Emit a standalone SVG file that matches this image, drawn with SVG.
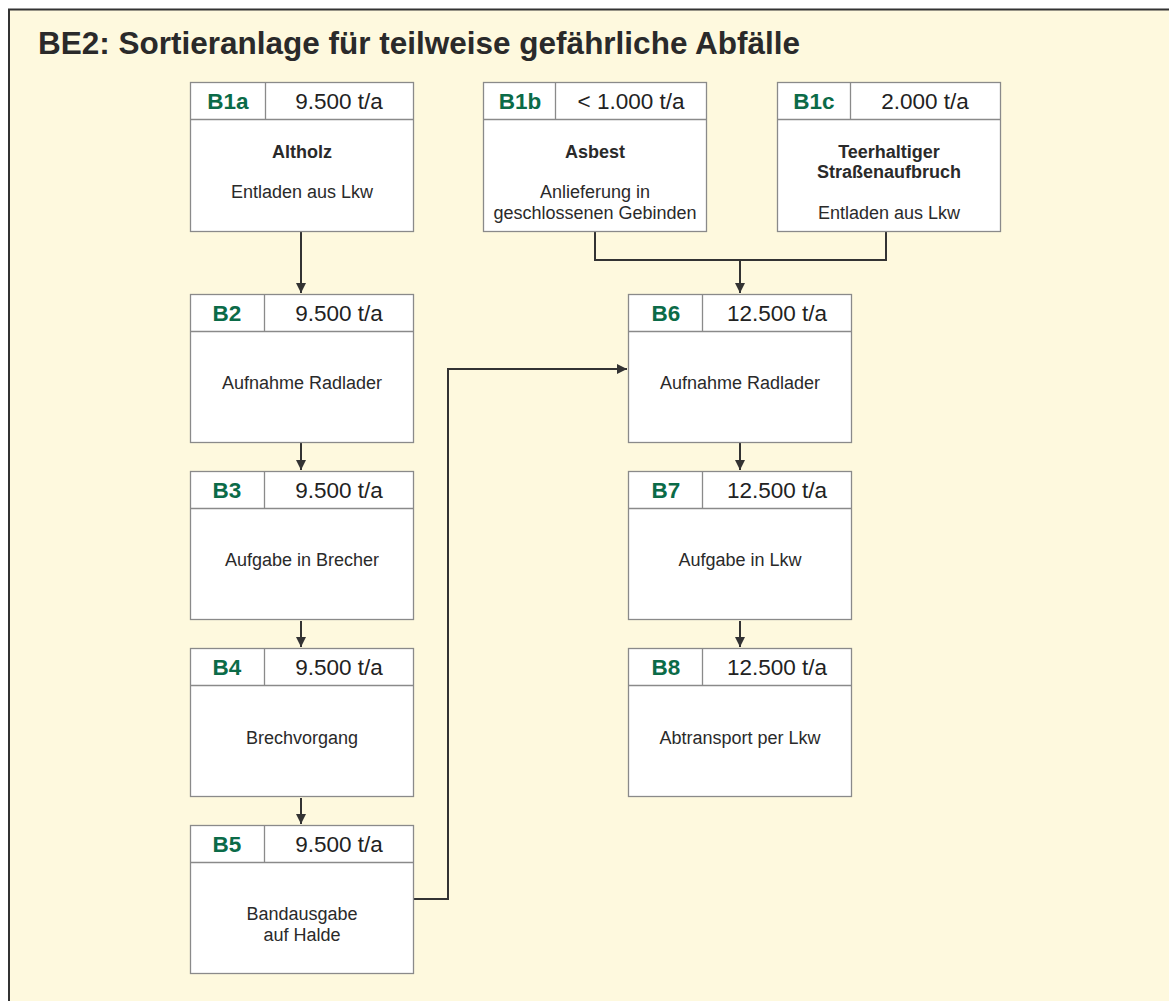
<svg xmlns="http://www.w3.org/2000/svg" width="1169" height="1001" viewBox="0 0 1169 1001">
<defs>
<style>
.box{fill:#fff;stroke:#8a8a8a;stroke-width:1.3}
.id{font-family:"Liberation Sans",Arial,sans-serif;font-weight:bold;font-size:22.5px;fill:#0b6b48;text-anchor:middle}
.val{font-family:"Liberation Sans",Arial,sans-serif;font-size:22.5px;fill:#222;text-anchor:middle}
.t{font-family:"Liberation Sans",Arial,sans-serif;font-size:18px;fill:#2a2a2a;text-anchor:middle}
.tb{font-family:"Liberation Sans",Arial,sans-serif;font-size:18px;font-weight:bold;fill:#2a2a2a;text-anchor:middle}
.c{fill:none;stroke:#333;stroke-width:2}
</style>
<marker id="ah" markerWidth="10" markerHeight="10" viewBox="0 0 10 10" refX="10" refY="5" orient="auto" markerUnits="userSpaceOnUse">
<path d="M0,0 L10,5 L0,10 z" fill="#333"/>
</marker>
</defs>
<rect x="0" y="0" width="1169" height="1001" fill="#fff"/>
<rect x="10" y="10" width="1169" height="1001" fill="#fef9de"/>
<path d="M9,1001 V9.5 H1169" fill="none" stroke="#333" stroke-width="2"/>
<text x="38" y="54" font-family="Liberation Sans,Arial,sans-serif" font-weight="bold" font-size="30.5" fill="#2a2a2a" textLength="762" lengthAdjust="spacingAndGlyphs">BE2: Sortieranlage für teilweise gefährliche Abfälle</text>

<g id="connectors">
<path class="c" d="M301,232 V293" marker-end="url(#ah)"/>
<path class="c" d="M595,232 V260 H886 V232"/>
<path class="c" d="M740,260 V293" marker-end="url(#ah)"/>
<path class="c" d="M301,443 V470" marker-end="url(#ah)"/>
<path class="c" d="M301,621 V647" marker-end="url(#ah)"/>
<path class="c" d="M301,798 V824" marker-end="url(#ah)"/>
<path class="c" d="M414,899 H448 V369 H627" marker-end="url(#ah)"/>
<path class="c" d="M740,443 V470" marker-end="url(#ah)"/>
<path class="c" d="M740,621 V647" marker-end="url(#ah)"/>
</g>

<g id="B1a">
<rect class="box" x="190.5" y="82.5" width="223" height="149"/>
<path class="box" d="M190.5,119.5 H413.5 M265.5,82.5 V119.5"/>
<text class="id" x="228" y="109">B1a</text>
<text class="val" x="339" y="109">9.500 t/a</text>
<text class="tb" x="302" y="158">Altholz</text>
<text class="t" x="302" y="198">Entladen aus Lkw</text>
</g>
<g id="B1b">
<rect class="box" x="483.5" y="82.5" width="223" height="149"/>
<path class="box" d="M483.5,119.5 H706.5 M555.5,82.5 V119.5"/>
<text class="id" x="520" y="109">B1b</text>
<text class="val" x="631" y="109">&lt; 1.000 t/a</text>
<text class="tb" x="595" y="158">Asbest</text>
<text class="t" x="595" y="198">Anlieferung in</text>
<text class="t" x="595" y="219">geschlossenen Gebinden</text>
</g>
<g id="B1c">
<rect class="box" x="777.5" y="82.5" width="223" height="149"/>
<path class="box" d="M777.5,119.5 H1000.5 M850.5,82.5 V119.5"/>
<text class="id" x="814" y="109">B1c</text>
<text class="val" x="925" y="109">2.000 t/a</text>
<text class="tb" x="889" y="158">Teerhaltiger</text>
<text class="tb" x="889" y="178">Straßenaufbruch</text>
<text class="t" x="889" y="219">Entladen aus Lkw</text>
</g>
<g id="B2">
<rect class="box" x="190.5" y="294.5" width="223" height="148"/>
<path class="box" d="M190.5,331.5 H413.5 M264.5,294.5 V331.5"/>
<text class="id" x="227" y="321">B2</text>
<text class="val" x="339" y="321">9.500 t/a</text>
<text class="t" x="302" y="389">Aufnahme Radlader</text>
</g>
<g id="B3">
<rect class="box" x="190.5" y="471.5" width="223" height="148"/>
<path class="box" d="M190.5,508.5 H413.5 M264.5,471.5 V508.5"/>
<text class="id" x="227" y="498">B3</text>
<text class="val" x="339" y="498">9.500 t/a</text>
<text class="t" x="302" y="566">Aufgabe in Brecher</text>
</g>
<g id="B4">
<rect class="box" x="190.5" y="648.5" width="223" height="148"/>
<path class="box" d="M190.5,685.5 H413.5 M264.5,648.5 V685.5"/>
<text class="id" x="227" y="675">B4</text>
<text class="val" x="339" y="675">9.500 t/a</text>
<text class="t" x="302" y="744">Brechvorgang</text>
</g>
<g id="B5">
<rect class="box" x="190.5" y="825.5" width="223" height="148"/>
<path class="box" d="M190.5,862.5 H413.5 M264.5,825.5 V862.5"/>
<text class="id" x="227" y="852">B5</text>
<text class="val" x="339" y="852">9.500 t/a</text>
<text class="t" x="302" y="920">Bandausgabe</text>
<text class="t" x="302" y="941">auf Halde</text>
</g>
<g id="B6">
<rect class="box" x="628.5" y="294.5" width="223" height="148"/>
<path class="box" d="M628.5,331.5 H851.5 M702.5,294.5 V331.5"/>
<text class="id" x="666" y="321">B6</text>
<text class="val" x="777" y="321">12.500 t/a</text>
<text class="t" x="740" y="389">Aufnahme Radlader</text>
</g>
<g id="B7">
<rect class="box" x="628.5" y="471.5" width="223" height="148"/>
<path class="box" d="M628.5,508.5 H851.5 M702.5,471.5 V508.5"/>
<text class="id" x="666" y="498">B7</text>
<text class="val" x="777" y="498">12.500 t/a</text>
<text class="t" x="740" y="566">Aufgabe in Lkw</text>
</g>
<g id="B8">
<rect class="box" x="628.5" y="648.5" width="223" height="148"/>
<path class="box" d="M628.5,685.5 H851.5 M702.5,648.5 V685.5"/>
<text class="id" x="666" y="675">B8</text>
<text class="val" x="777" y="675">12.500 t/a</text>
<text class="t" x="740" y="744">Abtransport per Lkw</text>
</g>
</svg>
